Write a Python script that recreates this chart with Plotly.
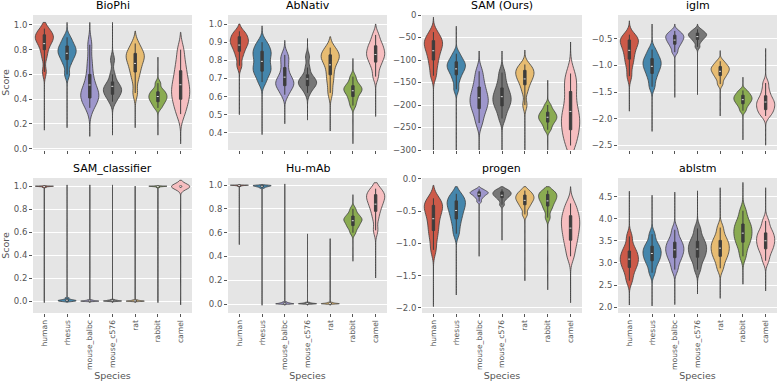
import numpy as np
import colorsys
import plotly.graph_objects as go

SPECIES = ["human", "rhesus", "mouse_balbc", "mouse_c576", "rat", "rabbit", "camel"]
BASE_COLORS = ['#E24A33', '#348ABD', '#988ED5', '#777777', '#FBC15E', '#8EBA42', '#FFB5B8']
TITLES = ["BioPhi", "AbNativ", "SAM (Ours)", "iglm", "SAM_classifier", "Hu-mAb", "progen", "ablstm"]

# Per-violin quantile readings (5%,15%,...,95%) and [min, max] extent
BIOPHI_Q = [
    [0.62, 0.74, 0.80, 0.84, 0.87, 0.89, 0.90, 0.92, 0.94, 0.97],
    [0.60, 0.68, 0.72, 0.75, 0.77, 0.79, 0.81, 0.83, 0.86, 0.90],
    [0.33, 0.38, 0.41, 0.43, 0.45, 0.48, 0.53, 0.60, 0.70, 0.84],
    [0.38, 0.42, 0.44, 0.46, 0.48, 0.49, 0.51, 0.54, 0.60, 0.72],
    [0.45, 0.56, 0.62, 0.66, 0.70, 0.73, 0.75, 0.77, 0.80, 0.85],
    [0.33, 0.36, 0.38, 0.40, 0.41, 0.43, 0.44, 0.46, 0.48, 0.53],
    [0.28, 0.35, 0.40, 0.44, 0.48, 0.52, 0.57, 0.63, 0.70, 0.80],
]
BIOPHI_SPAN = [[0.15, 1.02], [0.17, 1.02], [0.10, 1.02], [0.11, 1.02], [0.17, 0.95], [0.11, 0.74], [0.04, 0.94]]

ABNATIV_Q = [
    [0.77, 0.82, 0.85, 0.87, 0.89, 0.90, 0.91, 0.93, 0.94, 0.96],
    [0.68, 0.72, 0.74, 0.76, 0.78, 0.81, 0.83, 0.85, 0.87, 0.90],
    [0.61, 0.64, 0.66, 0.67, 0.68, 0.70, 0.72, 0.76, 0.80, 0.83],
    [0.62, 0.65, 0.66, 0.67, 0.68, 0.69, 0.70, 0.72, 0.76, 0.82],
    [0.62, 0.68, 0.72, 0.76, 0.79, 0.81, 0.82, 0.83, 0.85, 0.87],
    [0.55, 0.58, 0.60, 0.62, 0.63, 0.64, 0.65, 0.66, 0.68, 0.71],
    [0.71, 0.76, 0.79, 0.81, 0.83, 0.84, 0.86, 0.88, 0.90, 0.94],
]
ABNATIV_SPAN = [[0.50, 1.00], [0.39, 0.99], [0.45, 0.91], [0.47, 0.92], [0.41, 0.93], [0.34, 0.81], [0.49, 1.00]]

SAM_Q = [
    [-135, -115, -100, -88, -78, -70, -63, -57, -50, -38],
    [-165, -145, -133, -125, -119, -114, -109, -104, -97, -86],
    [-240, -220, -208, -198, -190, -182, -172, -160, -145, -125],
    [-230, -212, -202, -194, -187, -180, -172, -162, -148, -128],
    [-200, -170, -155, -146, -139, -133, -128, -123, -117, -110],
    [-255, -245, -238, -233, -229, -225, -221, -216, -210, -200],
    [-290, -270, -255, -240, -228, -215, -195, -170, -150, -130],
]
SAM_SPAN = [[-330, -5], [-330, -25], [-330, -80], [-330, -80], [-330, -78], [-330, -145], [-340, -60]]

IGLM_Q = [
    [-1.20, -1.00, -0.88, -0.78, -0.69, -0.62, -0.56, -0.52, -0.48, -0.42],
    [-1.40, -1.25, -1.15, -1.08, -1.02, -0.97, -0.92, -0.87, -0.80, -0.70],
    [-0.75, -0.66, -0.60, -0.56, -0.52, -0.49, -0.46, -0.43, -0.40, -0.35],
    [-0.65, -0.56, -0.51, -0.48, -0.45, -0.43, -0.41, -0.39, -0.36, -0.32],
    [-1.35, -1.25, -1.19, -1.15, -1.11, -1.08, -1.05, -1.02, -0.98, -0.92],
    [-1.85, -1.77, -1.72, -1.68, -1.65, -1.62, -1.59, -1.56, -1.52, -1.47],
    [-1.95, -1.88, -1.83, -1.78, -1.73, -1.69, -1.64, -1.57, -1.47, -1.33],
]
IGLM_SPAN = [[-1.86, -0.16], [-2.24, -0.22], [-1.60, -0.22], [-1.55, -0.22], [-1.95, -0.72], [-2.40, -1.22], [-2.50, -0.68]]

CLS_Q = [
    [0.988, 0.992, 0.995, 0.996, 0.997, 0.998, 0.999, 0.999, 1.0, 1.0],
    [0.0, 0.002, 0.004, 0.006, 0.008, 0.010, 0.012, 0.015, 0.020, 0.030],
    [0.0, 0.001, 0.002, 0.003, 0.004, 0.005, 0.006, 0.008, 0.010, 0.014],
    [0.0, 0.002, 0.003, 0.004, 0.005, 0.006, 0.008, 0.010, 0.012, 0.016],
    [0.0, 0.001, 0.002, 0.003, 0.004, 0.005, 0.006, 0.008, 0.010, 0.014],
    [0.988, 0.992, 0.995, 0.996, 0.997, 0.998, 0.999, 0.999, 1.0, 1.0],
    [0.985, 0.99, 0.993, 0.995, 0.997, 0.998, 0.999, 1.0, 1.0, 1.0],
]
CLS_SPAN = [[-0.01, 1.005], [-0.01, 1.01], [-0.01, 1.01], [-0.01, 1.01], [-0.01, 1.0], [-0.01, 1.005], [-0.03, 1.05]]
CLS_BW = [None, None, None, None, None, None, 0.025]

HUMAB_Q = [
    [0.990, 0.994, 0.996, 0.997, 0.998, 0.999, 0.999, 1.0, 1.0, 1.0],
    [0.975, 0.982, 0.986, 0.989, 0.991, 0.993, 0.995, 0.997, 0.998, 1.0],
    [0.0, 0.001, 0.002, 0.003, 0.004, 0.006, 0.008, 0.010, 0.013, 0.018],
    [0.0, 0.001, 0.002, 0.003, 0.004, 0.005, 0.006, 0.008, 0.010, 0.014],
    [0.0, 0.001, 0.002, 0.003, 0.004, 0.005, 0.006, 0.008, 0.010, 0.014],
    [0.60, 0.64, 0.66, 0.68, 0.70, 0.71, 0.72, 0.74, 0.76, 0.80],
    [0.62, 0.72, 0.78, 0.82, 0.85, 0.88, 0.90, 0.92, 0.94, 0.97],
]
HUMAB_SPAN = [[0.50, 1.005], [-0.01, 1.005], [-0.01, 1.01], [-0.01, 0.59], [-0.01, 0.55], [0.36, 0.92], [0.22, 1.02]]
HUMAB_BW = [None, None, None, None, None, None, None]

PROGEN_Q = [
    [-1.10, -0.92, -0.80, -0.70, -0.60, -0.52, -0.46, -0.41, -0.36, -0.30],
    [-0.85, -0.72, -0.62, -0.55, -0.48, -0.43, -0.38, -0.34, -0.29, -0.23],
    [-0.35, -0.30, -0.27, -0.25, -0.23, -0.22, -0.21, -0.20, -0.18, -0.16],
    [-0.40, -0.33, -0.29, -0.27, -0.25, -0.23, -0.22, -0.20, -0.18, -0.16],
    [-0.55, -0.45, -0.40, -0.36, -0.33, -0.30, -0.28, -0.25, -0.22, -0.18],
    [-0.60, -0.48, -0.42, -0.37, -0.33, -0.30, -0.27, -0.24, -0.21, -0.18],
    [-1.20, -1.05, -0.95, -0.86, -0.78, -0.71, -0.64, -0.57, -0.49, -0.38],
]
PROGEN_SPAN = [[-1.98, -0.10], [-1.80, -0.12], [-1.20, -0.12], [-0.95, -0.12], [-1.58, -0.12], [-1.72, -0.12], [-1.92, -0.12]]

ABLSTM_Q = [
    [2.60, 2.78, 2.90, 2.98, 3.05, 3.12, 3.19, 3.27, 3.38, 3.60],
    [2.78, 2.95, 3.05, 3.12, 3.19, 3.25, 3.31, 3.38, 3.47, 3.65],
    [2.85, 3.02, 3.12, 3.20, 3.27, 3.33, 3.40, 3.47, 3.57, 3.75],
    [2.85, 3.03, 3.13, 3.21, 3.28, 3.35, 3.42, 3.49, 3.60, 3.78],
    [2.88, 3.05, 3.15, 3.23, 3.30, 3.37, 3.44, 3.51, 3.62, 3.80],
    [3.15, 3.35, 3.47, 3.56, 3.64, 3.72, 3.80, 3.88, 3.99, 4.18],
    [3.05, 3.22, 3.32, 3.40, 3.47, 3.54, 3.61, 3.68, 3.78, 3.95],
]
ABLSTM_SPAN = [[2.05, 4.62], [2.03, 4.53], [2.06, 4.60], [2.30, 4.63], [2.20, 4.70], [2.52, 4.82], [2.37, 4.70]]

Y_RANGES = [[-0.01, 1.08], [0.305, 1.05], [-300, 0], [-2.59, -0.05],
            [-0.1, 1.07], [-0.075, 1.06], [-2.08, 0.015], [1.87, 4.92]]
Y_TICKS = [
    [0.0, 0.2, 0.4, 0.6, 0.8, 1.0],
    [0.4, 0.5, 0.6, 0.7, 0.8, 0.9, 1.0],
    [-300, -250, -200, -150, -100, -50, 0],
    [-2.5, -2.0, -1.5, -1.0, -0.5],
    [0.0, 0.2, 0.4, 0.6, 0.8, 1.0],
    [0.0, 0.2, 0.4, 0.6, 0.8, 1.0],
    [-2.0, -1.5, -1.0, -0.5, 0.0],
    [2.0, 2.5, 3.0, 3.5, 4.0, 4.5],
]
Y_FMT = [".1f", ".1f", "d", ".1f", ".1f", ".1f", ".1f", ".1f"]

PANELS = [
    (BIOPHI_Q, BIOPHI_SPAN, None), (ABNATIV_Q, ABNATIV_SPAN, None),
    (SAM_Q, SAM_SPAN, None), (IGLM_Q, IGLM_SPAN, None),
    (CLS_Q, CLS_SPAN, CLS_BW), (HUMAB_Q, HUMAB_SPAN, HUMAB_BW),
    (PROGEN_Q, PROGEN_SPAN, None), (ABLSTM_Q, ABLSTM_SPAN, None),
]


def desaturate(hexc, prop=0.75):
    r, g, b = (int(hexc[i:i + 2], 16) / 255 for i in (1, 3, 5))
    h, l, s = colorsys.rgb_to_hls(r, g, b)
    r, g, b = colorsys.hls_to_rgb(h, l, s * prop)
    return '#%02x%02x%02x' % (round(r * 255), round(g * 255), round(b * 255))


COLORS = [desaturate(c) for c in BASE_COLORS]
OUT = '#3d3d3d'
W, H = 780, 383
X_PX = [(33, 192), (228, 387), (422, 582), (618, 777)]
Y_PX = [(15, 150), (178, 313)]

fig = go.Figure()
layout = {}
annotations = []
for idx, (qs, spans, bws) in enumerate(PANELS):
    row, col = divmod(idx, 4)
    n = '' if idx == 0 else str(idx + 1)
    xd = [X_PX[col][0] / W, X_PX[col][1] / W]
    yd = [1 - Y_PX[row][1] / H, 1 - Y_PX[row][0] / H]
    for j, sp in enumerate(SPECIES):
        vals = np.array(qs[j], dtype=float)
        bw = bws[j] if (bws is not None and bws[j] is not None) else max(0.4 * vals.std(), 1e-4)
        fig.add_trace(go.Violin(
            y=vals, x0=j, name=sp, xaxis='x' + n, yaxis='y' + n,
            fillcolor=COLORS[j], line=dict(color=OUT, width=0.8),
            width=0.8, spanmode='manual', span=spans[j], bandwidth=bw,
            points=False, scalemode='width',
            box=dict(visible=True, width=0.13, fillcolor=OUT, line=dict(color=OUT, width=1)),
            meanline=dict(visible=True, color='#dddddd', width=1),
            showlegend=False, hoverinfo='skip'))
    xa = dict(domain=xd, range=[-0.5, 6.5], anchor='y' + n, tickmode='array',
              tickvals=list(range(7)), ticktext=SPECIES, showticklabels=(row == 1),
              tickangle=-90, ticks='outside', ticklen=3, tickcolor='#555555',
              tickfont=dict(size=7.6, color='#555555'), showgrid=False, zeroline=False,
              showline=False, fixedrange=True, automargin=False)
    if row == 1:
        xa['title'] = dict(text='Species', font=dict(size=9.5, color='#555555'), standoff=3)
    ya = dict(domain=yd, range=Y_RANGES[idx], anchor='x' + n, tickmode='array',
              tickvals=Y_TICKS[idx], tickformat=Y_FMT[idx], ticks='outside', ticklen=3,
              tickcolor='#555555', tickfont=dict(size=8.5, color='#555555'),
              showgrid=True, gridcolor='white', gridwidth=1, zeroline=False, showline=False,
              automargin=False)
    if col == 0:
        ya['title'] = dict(text='Score', font=dict(size=9.5, color='#555555'), standoff=3)
    layout['xaxis' + n] = xa
    layout['yaxis' + n] = ya
    annotations.append(dict(text=TITLES[idx], x=(xd[0] + xd[1]) / 2, y=yd[1], xref='paper',
                            yref='paper', xanchor='center', yanchor='bottom', yshift=1,
                            showarrow=False, font=dict(size=11, color='black')))

fig.update_layout(**layout)
fig.update_layout(width=W, height=H, margin=dict(l=0, r=0, t=0, b=0),
                  plot_bgcolor='#E5E5E5', paper_bgcolor='white',
                  font=dict(family='DejaVu Sans', color='#555555'),
                  annotations=annotations, violinmode='overlay')
fig.write_html("out.html", config={'displayModeBar': False},
               post_script="document.body.style.margin='0';document.body.style.overflow='hidden';")
